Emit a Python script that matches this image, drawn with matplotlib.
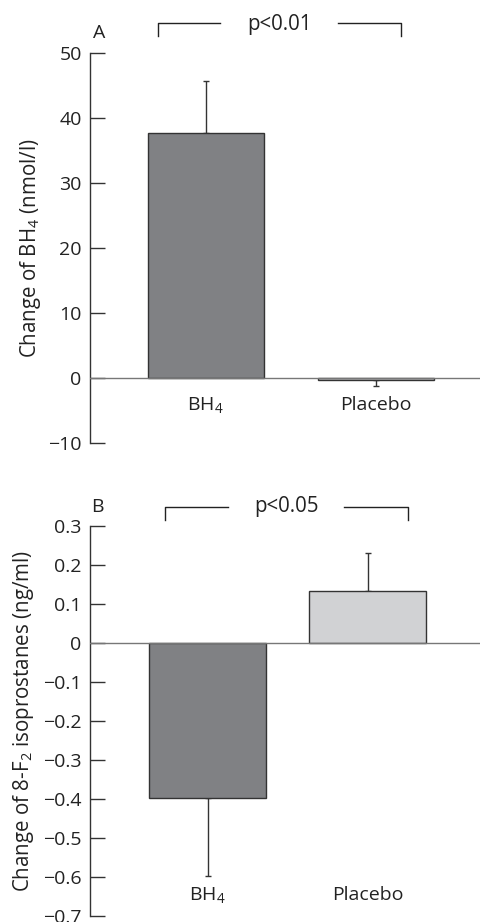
import matplotlib
matplotlib.use("Agg")
import matplotlib.pyplot as plt

plt.rcParams['font.family'] = ['Open Sans', 'DejaVu Sans']
plt.rcParams['mathtext.default'] = 'regular'

# Data
groups = ["BH$_4$", "Placebo"]
bh4_change = [37.7, -0.4]
bh4_err = [7.9, 0.9]
iso_change = [-0.397, 0.134]
iso_err = [0.201, 0.097]
yticks_a = [-10, 0, 10, 20, 30, 40, 50]
ytick_labels_a = ["\u221210", "0", "10", "20", "30", "40", "50"]
yticks_b = [-0.7, -0.6, -0.5, -0.4, -0.3, -0.2, -0.1, 0, 0.1, 0.2, 0.3]
ytick_labels_b = ["\u22120.7", "\u22120.6", "\u22120.5", "\u22120.4", "\u22120.3", "\u22120.2",
                  "\u22120.1", "0", "0.1", "0.2", "0.3"]

fill_colors = ["#808184", "#d1d2d4"]
edge_color = "#333333"
txt = "#222222"
fs = 14
fsl = 14.8

fig = plt.figure(figsize=(4.8, 9.22), dpi=100)
axA = fig.add_axes([0.1875, 0.5198, 0.8125, 0.4230])
axB = fig.add_axes([0.1875, 0.0065, 0.8125, 0.4230])


def style(ax):
    for s in ["top", "right", "bottom"]:
        ax.spines[s].set_visible(False)
    ax.spines["left"].set_color("#333333")
    ax.spines["left"].set_linewidth(1.0)
    ax.tick_params(axis="y", direction="in", length=11, width=1.0, color="#333333",
                   labelsize=fs, pad=6, labelcolor=txt)
    ax.set_xticks([])


# Panel A
style(axA)
x = [0, 1]
for i in range(2):
    yerr = [[0], [bh4_err[i]]] if bh4_change[i] >= 0 else [[bh4_err[i]], [0]]
    axA.bar(x[i], bh4_change[i], width=0.68, color=fill_colors[i], edgecolor=edge_color,
            linewidth=1.0, zorder=2)
    axA.errorbar(x[i], bh4_change[i], yerr=yerr, fmt="none", ecolor=edge_color,
                 elinewidth=1.0, capsize=2.3, capthick=1.0, zorder=1)
axA.axhline(0, color="#777777", lw=1.0, zorder=3)
axA.set_xlim(-0.68, 1.61)
axA.set_ylim(-10, 50)
axA.set_yticks(yticks_a)
axA.set_yticklabels(ytick_labels_a)
axA.set_ylabel("Change of BH$_4$ (nmol/l)", fontsize=fsl, color=txt)
axA.yaxis.set_label_coords(-0.120, 0.5)
for i in range(2):
    axA.text(x[i], -4.2, groups[i], ha="center", va="center", fontsize=fs, color=txt)
# bracket
axA.plot([-0.281, -0.281, 0.085], [52.5, 54.5, 54.5], color=txt, lw=1.0, clip_on=False)
axA.plot([0.774, 1.144, 1.144], [54.5, 54.5, 52.5], color=txt, lw=1.0, clip_on=False)
axA.text(0.43, 54.4, "p<0.01", ha="center", va="center", fontsize=fsl, color=txt)
axA.text(-0.626, 53.0, "A", ha="center", va="center", fontsize=fs, color=txt)

# Panel B
style(axB)
for i in range(2):
    yerr = [[0], [iso_err[i]]] if iso_change[i] >= 0 else [[iso_err[i]], [0]]
    axB.bar(x[i], iso_change[i], width=0.73, color=fill_colors[i], edgecolor=edge_color,
            linewidth=1.0, zorder=2)
    axB.errorbar(x[i], iso_change[i], yerr=yerr, fmt="none", ecolor=edge_color,
                 elinewidth=1.0, capsize=2.3, capthick=1.0, zorder=1)
axB.axhline(0, color="#777777", lw=1.0, zorder=3)
axB.set_xlim(-0.734, 1.70)
axB.set_ylim(-0.7, 0.3)
axB.set_yticks(yticks_b)
axB.set_yticklabels(ytick_labels_b)
axB.set_ylabel("Change of 8-F$_2$ isoprostanes (ng/ml)", fontsize=fsl, color=txt)
axB.yaxis.set_label_coords(-0.138, 0.5)
for i in range(2):
    axB.text(x[i], -0.646, groups[i], ha="center", va="center", fontsize=fs, color=txt)
axB.plot([-0.266, -0.266, 0.128], [0.315, 0.3495, 0.3495], color=txt, lw=1.0, clip_on=False)
axB.plot([0.853, 1.249, 1.249], [0.3495, 0.3495, 0.315], color=txt, lw=1.0, clip_on=False)
axB.text(0.49, 0.349, "p<0.05", ha="center", va="center", fontsize=fsl, color=txt)
axB.text(-0.69, 0.349, "B", ha="center", va="center", fontsize=fs, color=txt)

fig.savefig("out.png", dpi=100)
